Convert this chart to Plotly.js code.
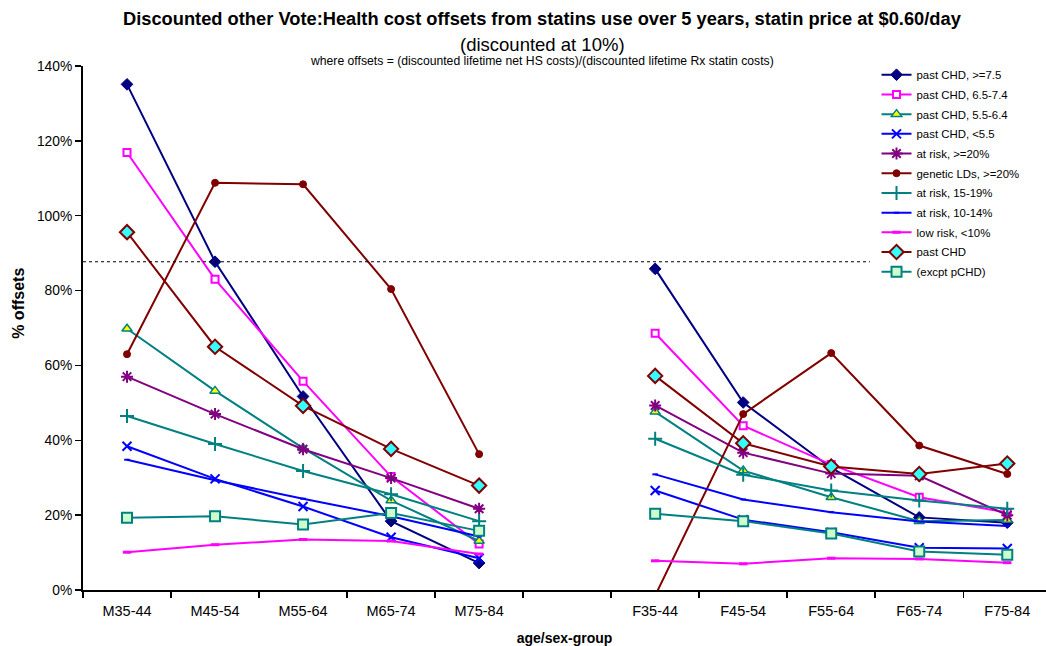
<!DOCTYPE html>
<html>
<head>
<meta charset="utf-8">
<script src="https://cdn.plot.ly/plotly-3.0.1.min.js"></script>
<style>body{margin:0;padding:0;background:#fff;}#chart{width:1046px;height:646px;}</style>
</head>
<body>
<div id="chart"></div>
<script>
// Categories (empty slot separates male and female groups)
const categories = ["M35-44","M45-54","M55-64","M65-74","M75-84","","F35-44","F45-54","F55-64","F65-74","F75-84"];

// Series values in % (null = gap)
const pastCHD_ge75   = [135.1, 87.7, 51.7, 18.4, 7.2, null, 85.8, 50.1, 32.6, 19.4, 18.0];
const pastCHD_65_74  = [116.9, 83.0, 55.8, 30.3, 12.3, null, 68.6, 43.9, 33.5, 24.8, 20.7];
const pastCHD_55_64  = [69.8, 53.2, 37.9, 23.9, 13.1, null, 47.6, 31.9, 24.8, 18.4, 18.7];
const pastCHD_lt55   = [38.4, 29.7, 22.3, 14.1, 8.5, null, 26.6, 18.8, 15.4, 11.3, 11.1];
const atRisk_ge20    = [57.0, 47.0, 37.6, 29.9, 21.7, null, 49.3, 36.7, 31.1, 30.5, 20.0];
const geneticLDs     = [63.0, 108.8, 108.4, 80.4, 36.3, null, -1.5, 47.0, 63.3, 38.6, 31.0];
const atRisk_15_19   = [46.5, 39.0, 31.8, 25.6, 18.4, null, 40.4, 30.8, 26.6, 23.9, 21.7];
const atRisk_10_14   = [34.8, 29.3, 24.4, 19.7, 14.3, null, 30.9, 24.2, 20.8, 18.3, 17.1];
const lowRisk_lt10   = [10.1, 12.1, 13.5, 13.1, 9.6, null, 7.8, 7.0, 8.5, 8.3, 7.3];
const pastCHD_all    = [95.6, 65.0, 49.2, 37.7, 27.9, null, 57.2, 39.2, 33.0, 31.0, 33.8];
const exceptPastCHD  = [19.3, 19.7, 17.5, 20.6, 15.8, null, 20.4, 18.4, 15.1, 10.3, 9.4];
const referenceLine  = 87.7;

const seriesNames = ["past CHD, >=7.5","past CHD, 6.5-7.4","past CHD, 5.5-6.4","past CHD, <5.5",
  "at risk, >=20%","genetic LDs, >=20%","at risk, 15-19%","at risk, 10-14%","low risk, <10%","past CHD","(excpt pCHD)"];
const yTickVals = [0,20,40,60,80,100,120,140];

const xIdx = categories.map((c,i)=>i);

let gi = 0;
function tr(name, y, color, marker, mode){
  gi++;
  return {x:xIdx, y:y, name:name, type:'scatter', mode:mode||'lines+markers', legendgroup:'g'+gi,
    line:{color:color, width:2}, marker:marker, cliponaxis:true, connectgaps:false};
}

const traces = [
  tr(seriesNames[0], pastCHD_ge75, '#000080', {symbol:'diamond', size:9, color:'#000080', line:{color:'#000080',width:1}}),
  tr(seriesNames[1], pastCHD_65_74, '#FF00FF', {symbol:'square', size:7, color:'#ffffff', line:{color:'#FF00FF',width:2}}),
  tr(seriesNames[2], pastCHD_55_64, '#008080', {symbol:'triangle-up', size:9, color:'#FFFF00', line:{color:'#008080',width:1.5}}),
  tr(seriesNames[3], pastCHD_lt55, '#0000FF', {symbol:'x-thin-open', size:9, color:'#0000FF', line:{color:'#0000FF',width:2}}),
  tr(seriesNames[4], atRisk_ge20, '#800080', {symbol:'asterisk-open', size:10, color:'#800080', line:{color:'#800080',width:2}}),
  tr(seriesNames[5], geneticLDs, '#800000', {symbol:'circle', size:7, color:'#800000', line:{color:'#800000',width:1}}),
  tr(seriesNames[6], atRisk_15_19, '#008080', {symbol:'cross-thin-open', size:10, color:'#008080', line:{color:'#008080',width:2}}),
  tr(seriesNames[7], atRisk_10_14, '#0000FF', {symbol:'line-ew-open', size:4, color:'#0000FF', line:{color:'#0000FF',width:2}}),
  tr(seriesNames[8], lowRisk_lt10, '#FF00FF', {symbol:'line-ew-open', size:6, color:'#FF00FF', line:{color:'#FF00FF',width:3}}),
  tr(seriesNames[9], pastCHD_all, '#800000', {symbol:'diamond', size:11, color:'#33FFFF', line:{color:'#800000',width:2}}),
  tr(seriesNames[10], exceptPastCHD, '#008080', {symbol:'square', size:10, color:'#CCFFCC', line:{color:'#008080',width:2}})
];

const boundaries = categories.map((c,i)=>i-0.5).concat([categories.length-0.5]);

const layout = {
  width:1046, height:646,
  margin:{l:83, r:0, t:66, b:56, pad:0},
  paper_bgcolor:'#ffffff', plot_bgcolor:'#ffffff',
  font:{family:'Liberation Sans, Arial, sans-serif', color:'#000', size:12},
  showlegend:true,
  legend:{x:0.824, y:1.011, xanchor:'left', yanchor:'top', bgcolor:'rgba(255,255,255,0)',
    font:{size:11.4, family:'Liberation Sans, Arial, sans-serif'}, tracegroupgap:0.7, itemwidth:30,
    traceorder:'grouped'},
  xaxis:{type:'linear', range:[-0.5, 10.44], tickmode:'array', tickvals:xIdx, ticktext:categories,
    ticks:'', showgrid:false, zeroline:false, showline:true, linecolor:'#000', linewidth:2,
    tickfont:{size:14.5}, ticklabelstandoff:7,
    minor:{tickmode:'array', tickvals:boundaries, ticks:'outside', ticklen:6, tickwidth:1.5, tickcolor:'#000', showgrid:false},
    title:{text:'<b>age/sex-group</b>', font:{size:14}, standoff:16}},
  yaxis:{range:[0,140], tickmode:'array', tickvals:yTickVals, ticktext:yTickVals.map(v=>v+'%'),
    ticks:'outside', ticklen:6, tickwidth:1.5, tickcolor:'#000', showgrid:false, zeroline:false,
    showline:true, linecolor:'#000', linewidth:2, tickfont:{size:13.8}},
  shapes:[{type:'line', xref:'x', yref:'y', x0:-0.5, x1:8.44, y0:referenceLine, y1:referenceLine,
    line:{color:'#000', width:1, dash:'dot'}}],
  annotations:[
    {text:'<b>Discounted other Vote:Health cost offsets from statins use over 5 years, statin price at $0.60/day</b>',
      xref:'paper', yref:'paper', x:0.477, y:1, yshift:48, xanchor:'center', yanchor:'middle', showarrow:false,
      font:{size:18.3}},
    {text:'(discounted at 10%)', xref:'paper', yref:'paper', x:0.477, y:1, yshift:22, xanchor:'center', yanchor:'middle',
      showarrow:false, font:{size:18.5}},
    {text:'where offsets = (discounted lifetime net HS costs)/(discounted lifetime Rx statin costs)',
      xref:'paper', yref:'paper', x:0.477, y:1, yshift:5, xanchor:'center', yanchor:'middle', showarrow:false,
      font:{size:12.2}},
    {text:'<b>% offsets</b>', xref:'paper', yref:'paper', x:-0.0665, y:0.548, xanchor:'center', yanchor:'middle',
      textangle:-90, showarrow:false, font:{size:16}}
  ]
};

Plotly.newPlot('chart', traces, layout, {displayModeBar:false, staticPlot:true});
</script>
</body>
</html>
